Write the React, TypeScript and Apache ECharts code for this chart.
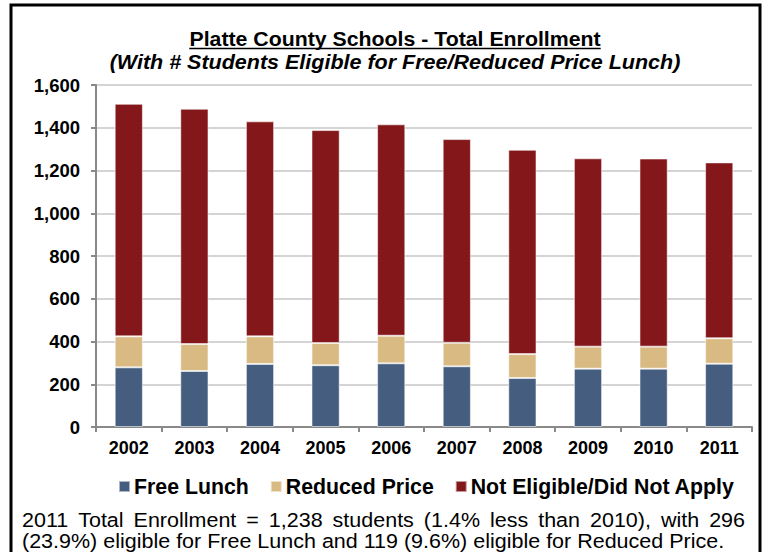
import React, { useEffect, useRef } from "react";
import * as echarts from "echarts";

const years = ["2002", "2003", "2004", "2005", "2006", "2007", "2008", "2009", "2010", "2011"];
const freeLunch = [279, 262, 295, 289, 298, 284, 229, 273, 273, 296];
const reducedPrice = [145, 126, 129, 104, 129, 110, 112, 103, 103, 119];
const notEligible = [1088, 1101, 1006, 996, 989, 953, 956, 881, 880, 823];
const yTicks = { min: 0, max: 1600, interval: 200 };

const titleText = "Platte County Schools - Total Enrollment";
const subtitleText = "(With # Students Eligible for Free/Reduced Price Lunch)";
const footerLines = [
  "2011 Total Enrollment = 1,238 students (1.4% less than 2010), with 296",
  "(23.9%) eligible for Free Lunch and 119 (9.6%) eligible for Reduced Price.",
];

const FONT = "'Liberation Sans', Arial, sans-serif";

function measure(text: string, font: string): number {
  const c = document.createElement("canvas");
  const ctx = c.getContext("2d");
  if (!ctx) return text.length * 10;
  ctx.font = font;
  return ctx.measureText(text).width;
}

export default function App() {
  const ref = useRef<HTMLDivElement>(null);
  useEffect(() => {
    if (!ref.current) return;
    const chart = echarts.init(ref.current, undefined, { renderer: "svg" });

    const titleSize = 19.5;
    const titleScale = 21.3 / 19.5;
    const subSize = 19.5;
    const subScale = 21.5 / 19.5;
    const titleW = measure(titleText, `bold ${titleSize}px 'Liberation Sans'`) * titleScale;
    const titleCx = 395;

    // Justified first footer line (slightly widened glyphs, like the original)
    const footSize = 19.5;
    const footScale = 21.5 / 19.5;
    const footFont = `${footSize}px 'Liberation Sans'`;
    const left = 22;
    const right = 745;
    const words = footerLines[0].split(" ");
    const widths = words.map((w) => measure(w, footFont) * footScale);
    const total = widths.reduce((a, b) => a + b, 0);
    const gap = (right - left - total) / (words.length - 1);
    const footerGraphics: any[] = [];
    let x = left;
    words.forEach((w, i) => {
      footerGraphics.push({
        type: "text",
        x,
        y: 520,
        scaleX: footScale,
        style: { text: w, font: `${footSize}px ${FONT}`, fill: "#000", textVerticalAlign: "middle" },
      });
      x += widths[i] + gap;
    });
    footerGraphics.push({
      type: "text",
      x: left,
      y: 541,
      scaleX: footScale,
      style: { text: footerLines[1], font: `${footSize}px ${FONT}`, fill: "#000", textVerticalAlign: "middle" },
    });

    const barStyle = (color: string) => ({
      color,
      borderColor: "rgba(255,255,255,0.55)",
      borderWidth: 1,
    });

    chart.setOption({
      animation: false,
      backgroundColor: "#fff",
      grid: { left: 96, right: 10, top: 85, bottom: 125, containLabel: false },
      legend: {
        left: 113,
        top: 471,
        icon: "rect",
        itemWidth: 11,
        itemHeight: 11,
        itemGap: 21,
        textStyle: { fontSize: 21.3, fontWeight: "bold", fontFamily: FONT, color: "#000", padding: [0, 0, 0, -1] },
        data: ["Free Lunch", "Reduced Price", "Not Eligible/Did Not Apply"],
      },
      xAxis: {
        type: "category",
        data: years,
        axisLine: { lineStyle: { color: "#898989", width: 2 } },
        axisTick: { show: true, length: 5, lineStyle: { color: "#898989", width: 2 } },
        axisLabel: { fontSize: 18, fontWeight: "bold", fontFamily: FONT, color: "#000", margin: 12 },
      },
      yAxis: {
        type: "value",
        min: yTicks.min,
        max: yTicks.max,
        interval: yTicks.interval,
        axisLine: { show: true, lineStyle: { color: "#898989", width: 2 } },
        axisTick: { show: true, length: 5, lineStyle: { color: "#898989", width: 2 } },
        axisLabel: {
          fontSize: 18.5,
          fontWeight: "bold",
          fontFamily: FONT,
          color: "#000",
          margin: 16,
          formatter: (v: number) => v.toLocaleString("en-US"),
        },
        splitLine: { lineStyle: { color: "#c6c6c6", width: 1.5 } },
      },
      series: [
        { name: "Free Lunch", type: "bar", stack: "total", barWidth: "43%", data: freeLunch, itemStyle: barStyle("#455E7F") },
        { name: "Reduced Price", type: "bar", stack: "total", barWidth: "43%", data: reducedPrice, itemStyle: barStyle("#D9BA83") },
        { name: "Not Eligible/Did Not Apply", type: "bar", stack: "total", barWidth: "43%", data: notEligible, itemStyle: barStyle("#83171A") },
      ],
      graphic: [
        {
          type: "rect",
          shape: { x: 11, y: 5, width: 749, height: 600 },
          style: { fill: "none", stroke: "#000", lineWidth: 3 },
          silent: true,
        },
        {
          type: "text",
          x: titleCx,
          y: 39,
          scaleX: titleScale,
          style: {
            text: titleText,
            font: `bold ${titleSize}px ${FONT}`,
            fill: "#000",
            textAlign: "center",
            textVerticalAlign: "middle",
          },
        },
        {
          type: "line",
          shape: { x1: titleCx - titleW / 2, y1: 48.5, x2: titleCx + titleW / 2, y2: 48.5 },
          style: { stroke: "#000", lineWidth: 1.5 },
        },
        {
          type: "text",
          x: titleCx,
          y: 62,
          scaleX: subScale,
          style: {
            text: subtitleText,
            font: `italic bold ${subSize}px ${FONT}`,
            fill: "#000",
            textAlign: "center",
            textVerticalAlign: "middle",
          },
        },
        ...footerGraphics,
      ],
    });
    return () => chart.dispose();
  }, []);
  return <div ref={ref} style={{ position: "fixed", left: 0, top: 0, width: 762, height: 552 }} />;
}
